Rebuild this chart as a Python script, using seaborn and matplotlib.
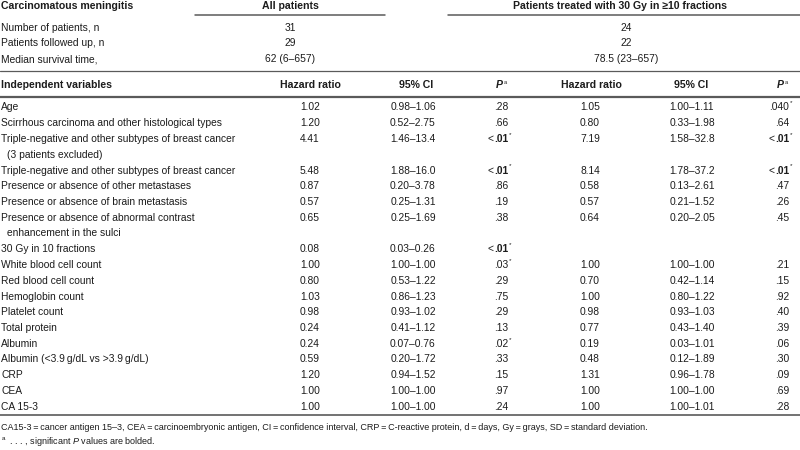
import matplotlib
matplotlib.use("Agg")
import matplotlib.pyplot as plt
from matplotlib import font_manager
import seaborn as sns

# summary rows
summary_labels = ["Number of patients, n", "Patients followed up, n", "Median survival time,"]
summary_all = ["31", "29", "62 (6–657)"]
summary_sub = ["24", "22", "78.5 (23–657)"]

# cox regression rows
variables = [
    "Age",
    "Scirrhous carcinoma and other histological types",
    "Triple-negative and other subtypes of breast cancer\n(3 patients excluded)",
    "Triple-negative and other subtypes of breast cancer",
    "Presence or absence of other metastases",
    "Presence or absence of brain metastasis",
    "Presence or absence of abnormal contrast\nenhancement in the sulci",
    "30 Gy in 10 fractions",
    "White blood cell count",
    "Red blood cell count",
    "Hemoglobin count",
    "Platelet count",
    "Total protein",
    "Albumin",
    "Albumin (<3.9\u2009g/dL vs >3.9\u2009g/dL)",
    "CRP",
    "CEA",
    "CA 15-3",
]
hr_all = ["1.02", "1.20", "4.41", "5.48", "0.87", "0.57", "0.65", "0.08", "1.00",
          "0.80", "1.03", "0.98", "0.24", "0.24", "0.59", "1.20", "1.00", "1.00"]
ci_all = ["0.98–1.06", "0.52–2.75", "1.46–13.4", "1.88–16.0", "0.20–3.78", "0.25–1.31",
          "0.25–1.69", "0.03–0.26", "1.00–1.00", "0.53–1.22", "0.86–1.23", "0.93–1.02",
          "0.41–1.12", "0.07–0.76", "0.20–1.72", "0.94–1.52", "1.00–1.00", "1.00–1.00"]
p_all = [".28", ".66", "<.01", "<.01", ".86", ".19", ".38", "<.01", ".03",
         ".29", ".75", ".29", ".13", ".02", ".33", ".15", ".97", ".24"]
hr_sub = ["1.05", "0.80", "7.19", "8.14", "0.58", "0.57", "0.64", "", "1.00",
          "0.70", "1.00", "0.98", "0.77", "0.19", "0.48", "1.31", "1.00", "1.00"]
ci_sub = ["1.00–1.11", "0.33–1.98", "1.58–32.8", "1.78–37.2", "0.13–2.61", "0.21–1.52",
          "0.20–2.05", "", "1.00–1.00", "0.42–1.14", "0.80–1.22", "0.93–1.03",
          "0.43–1.40", "0.03–1.01", "0.12–1.89", "0.96–1.78", "1.00–1.00", "1.00–1.01"]
p_sub = [".040", ".64", "<.01", "<.01", ".47", ".26", ".45", "", ".21",
         ".15", ".92", ".40", ".39", ".06", ".30", ".09", ".69", ".28"]

eq = "\u2009=\u2009"
footnote = ("CA15-3" + eq + "cancer antigen 15–3, CEA" + eq + "carcinoembryonic antigen, CI" + eq
            + "confidence interval, CRP" + eq + "C-reactive protein, d" + eq + "days, Gy" + eq
            + "grays, SD" + eq + "standard deviation.")

sns.set_theme(style="white")

# narrow font if we have it
names = {f.name for f in font_manager.fontManager.ttflist}
if "Liberation Sans Narrow" in names:
    FONT, FS, FS_HEAD, FS_FOOT = "Liberation Sans Narrow", 8.8, 9.0, 7.7
else:
    FONT, FS, FS_HEAD, FS_FOOT = "Liberation Sans", 7.4, 7.6, 6.5
plt.rcParams["font.family"] = [FONT, "DejaVu Sans"]
plt.rcParams["mathtext.fontset"] = "custom"
plt.rcParams["mathtext.rm"] = FONT
plt.rcParams["mathtext.it"] = FONT + ":italic"
plt.rcParams["mathtext.bf"] = FONT + ":bold"
plt.rcParams["mathtext.bfit"] = FONT + ":italic:bold"

TXT = "#1c1c1c"
LINE = "#5a5a5a"

fig = plt.figure(figsize=(8, 4.5), dpi=100)
ax = fig.add_axes([0, 0, 1, 1])
ax.set_xlim(0, 800)
ax.set_ylim(450, 0)
ax.axis("off")
renderer = fig.canvas.get_renderer()


def txt(x, y, s, ha="left", bold=False, size=FS, **kw):
    return ax.text(x, y, s, ha=ha, va="center", fontsize=size, color=TXT,
                   fontweight="bold" if bold else "normal", **kw)


def pval(x, y, p):
    if not p:
        return
    sig = p.startswith("<") or float(p) < 0.05
    if p.startswith("<"):
        t = txt(x, y, p[1:], ha="right", bold=True)
        w = t.get_window_extent(renderer).width
        txt(x - w - 0.5, y, "<", ha="right")
    else:
        txt(x, y, p, ha="right")
    if sig:
        ax.text(x + 0.8, y - 4.5, "*", ha="left", va="center", fontsize=FS - 2.8, color=TXT)


def phead(x, y):
    ax.text(x - 5, y, "P", ha="right", va="center", fontsize=FS_HEAD, color=TXT,
            fontweight="bold", fontstyle="italic")
    ax.text(x - 4.5, y - 3, "a", ha="left", va="center", fontsize=FS_HEAD - 3.5, color=TXT)


# top block
txt(1, 6, "Carcinomatous meningitis", bold=True, size=FS_HEAD)
txt(290, 6, "All patients", ha="center", bold=True, size=FS_HEAD)
txt(620, 6, "Patients treated with 30 Gy in ≥10 fractions", ha="center", bold=True, size=FS_HEAD)
ax.plot([195, 385], [15, 15], color=LINE, lw=1.1)
ax.plot([448, 800], [15, 15], color=LINE, lw=1.1)

for i, lab in enumerate(summary_labels):
    y = 28 + 15.5 * i
    txt(1, y, lab)
    txt(290, y, summary_all[i], ha="center")
    txt(626, y, summary_sub[i], ha="center")
ax.plot([0, 800], [71, 71], color=LINE, lw=0.9)

# header of regression block
hy = 85
txt(1, hy, "Independent variables", bold=True, size=FS_HEAD)
txt(310, hy, "Hazard ratio", ha="center", bold=True, size=FS_HEAD)
txt(416, hy, "95% CI", ha="center", bold=True, size=FS_HEAD)
phead(508, hy)
txt(591, hy, "Hazard ratio", ha="center", bold=True, size=FS_HEAD)
txt(691, hy, "95% CI", ha="center", bold=True, size=FS_HEAD)
phead(789, hy)
ax.plot([0, 800], [97, 97], color=LINE, lw=1.6)

step = 15.75
line = 0
for i, var in enumerate(variables):
    y = 107.5 + step * line
    parts = var.split("\n")
    for k, part in enumerate(parts):
        txt(1 + (6 if k else 0), y + step * k, part)
    txt(310, y, hr_all[i], ha="center")
    txt(413, y, ci_all[i], ha="center")
    pval(508, y, p_all[i])
    txt(590, y, hr_sub[i], ha="center")
    txt(692, y, ci_sub[i], ha="center")
    pval(789, y, p_sub[i])
    line += len(parts)

ax.plot([0, 800], [415, 415], color=LINE, lw=1.2)

txt(1, 427.5, footnote, size=FS_FOOT)
txt(1, 442, "$^{\\mathrm{a}}$  . . . , significant $\\mathit{P}$ values are bolded.", size=FS_FOOT)

fig.savefig("out.png", dpi=100)
